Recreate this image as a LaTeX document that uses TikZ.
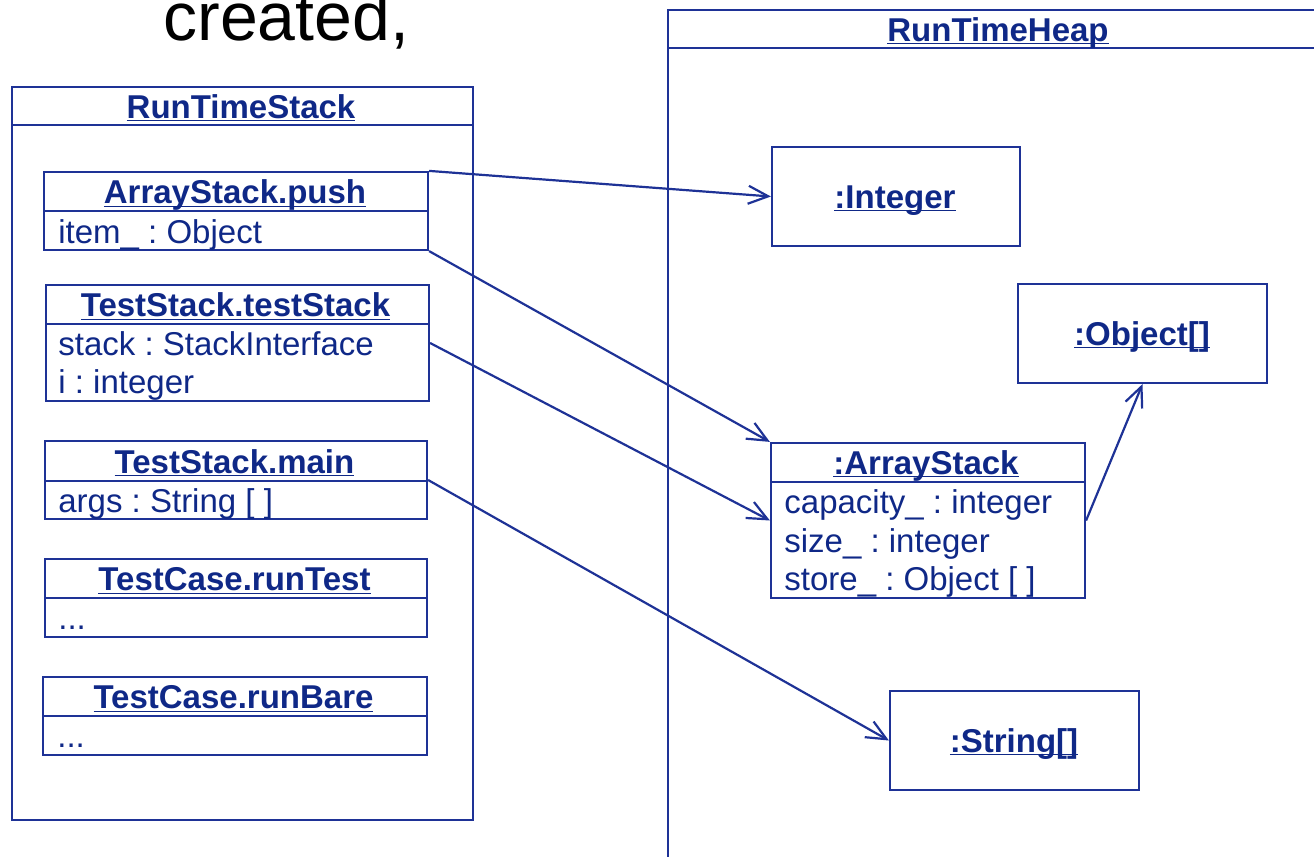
\documentclass[tikz,border=0pt]{standalone}
\usepackage{fontspec}
\setmainfont{Liberation Sans}
\usetikzlibrary{fit,arrows.meta}
\definecolor{umlblue}{RGB}{30,50,150}
\definecolor{umltext}{RGB}{15,40,135}
\newcommand\ulin[1]{\underline{\smash{#1}}}
\frenchspacing
\begin{document}
\begin{tikzpicture}[x=0.5pt, y=-0.5pt,
  box/.style={draw=umlblue, line width=1.1pt, inner sep=0pt, rectangle},
  divider/.style={draw=umlblue, line width=1.1pt},
  ttl/.style={text=umltext, font=\fontsize{16.5pt}{19pt}\selectfont\bfseries, anchor=base, inner sep=0pt},
  attr/.style={text=umltext, font=\fontsize{16.5pt}{19pt}\selectfont\frenchspacing, anchor=base west, inner sep=0pt},
  arr/.style={draw=umlblue, line width=1.1pt, -{Straight Barb[length=10pt,width=9pt]}}]
\useasboundingbox (0,0) rectangle (1314,857);
\clip (0,0) rectangle (1314,857);

% heading fragment
\node[anchor=base west, inner sep=0pt, font=\fontsize{34pt}{40pt}\selectfont] (created) at (163,40) {created,};

% run time stack
\node[box, fit={(12,87) (473,820)}] (stack) {};
\draw[divider] (12,125) -- (473,125);
\node[ttl] (stacktitle) at (241,118) {\ulin{RunTimeStack}};

% run time heap
\node[box, fit={(668,10) (1340,880)}] (heap) {};
\draw[divider] (668,48) -- (1340,48);
\node[ttl] (heaptitle) at (998,41) {\ulin{RunTimeHeap}};

% frames on the stack
\node[box, fit={(44,172) (428,250)}] (push) {};
\draw[divider] (44,211) -- (428,211);
\node[ttl] (pusht) at (235,203.5) {\ulin{ArrayStack.push}};
\node[attr] (pusha) at (58,243) {item\_ : Object};

\node[box, fit={(46,285) (429,401)}] (tstack) {};
\draw[divider] (46,324) -- (429,324);
\node[ttl] (tstackt) at (235.5,316.5) {\ulin{TestStack.testStack}};
\node[attr] (tstacka) at (58,355) {stack : StackInterface};
\node[attr] (tstackb) at (58,393) {i : integer};

\node[box, fit={(45,441) (427,519)}] (tmain) {};
\draw[divider] (45,481) -- (427,481);
\node[ttl] (tmaint) at (234.5,473) {\ulin{TestStack.main}};
\node[attr] (tmaina) at (58,512) {args : String [ ]};

\node[box, fit={(45,559) (427,637)}] (rtest) {};
\draw[divider] (45,598) -- (427,598);
\node[ttl] (rtestt) at (234.5,590.5) {\ulin{TestCase.runTest}};
\node[attr] (rtesta) at (58,629.5) {...};

\node[box, fit={(43,677) (427,755)}] (rbare) {};
\draw[divider] (43,716) -- (427,716);
\node[ttl] (rbaret) at (233.5,708.5) {\ulin{TestCase.runBare}};
\node[attr] (rbarea) at (57,747.5) {...};

% objects on the heap
\node[box, fit={(772,147) (1020,246)}] (integer) {};
\node[ttl] (integert) at (895,208) {\ulin{:Integer}};

\node[box, fit={(1018,284) (1267,383)}] (objarr) {};
\node[ttl] (objarrt) at (1142,345) {\ulin{:Object[]}};

\node[box, fit={(771,443) (1085,598)}] (astack) {};
\draw[divider] (771,482) -- (1085,482);
\node[ttl] (astackt) at (926,474) {\ulin{:ArrayStack}};
\node[attr] (astacka) at (784,513) {capacity\_ : integer};
\node[attr] (astackb) at (784,552) {size\_ : integer};
\node[attr] (astackc) at (784,590) {store\_ : Object [ ]};

\node[box, fit={(890,691) (1139,790)}] (strarr) {};
\node[ttl] (strarrt) at (1014,752) {\ulin{:String[]}};

% references
\draw[arr] (push.north east) -- (integer.west);
\draw[arr] (push.south east) -- (astack.north west);
\draw[arr] (tstack.east) -- (astack.west);
\draw[arr] (tmain.east) -- (strarr.west);
\draw[arr] (astack.east) -- (objarr.south);
\end{tikzpicture}
\end{document}
